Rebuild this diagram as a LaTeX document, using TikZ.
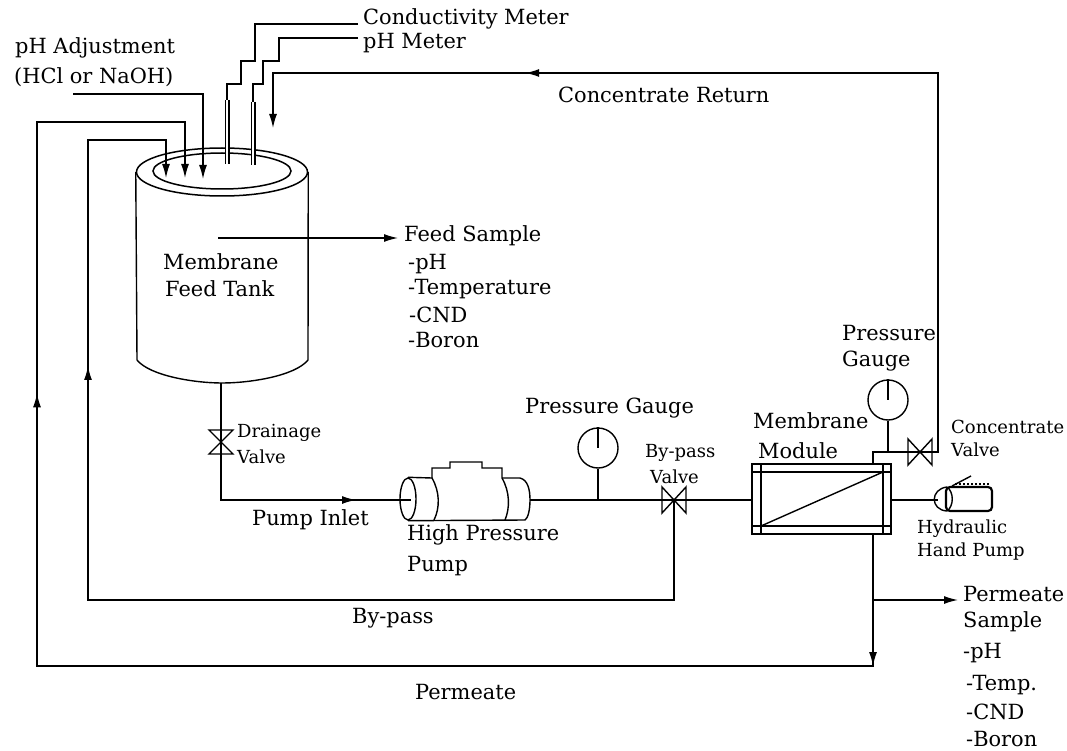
\documentclass[tikz,border=0pt]{standalone}
\usepackage{fontspec}
\setmainfont{DejaVu Serif}
\usepackage{tikz}
\usetikzlibrary{positioning,arrows.meta,calc,shapes.geometric,decorations.markings}
\tikzset{
    x=1pt,
    y=-1pt,
    >={Latex[length=14pt,width=8pt]},
    pipe/.style = {
        draw,
        line width=1.4pt
    },
    gauge/.style = {
        draw,
        shape=circle,
        minimum size=40pt,
        inner sep=0pt,
        line width=1.4pt
    },
    rim/.style = {
        draw,
        shape=ellipse,
        inner sep=0pt,
        line width=1.5pt
    },
    probe/.style = {
        draw,
        line width=1.5pt,
        double,
        double distance=2pt
    },
    empty/.style = {
        shape=rectangle,
        inner sep=0pt,
        anchor=west,
        font=\fontsize{20.9}{20.9}\selectfont
    },
    small/.style = {
        shape=rectangle,
        inner sep=0pt,
        anchor=west,
        font=\fontsize{18}{18}\selectfont
    },
    midarrow/.style = {
        postaction={decorate},
        decoration={markings, mark=at position #1 with {\arrow{>}}}
    },
    hvalve/.pic = {
        \path[pipe] (-12,-13) -- (12,13) -- (12,-13) -- (-12,13) -- cycle;
    },
    vvalve/.pic = {
        \path[pipe] (-12,-12) -- (12,-12) -- (-12,12) -- (12,12) -- cycle;
    },
}
\begin{document}
\begin{tikzpicture}
            \useasboundingbox (0,0) rectangle (1067,751);

            % tank
            \node[rim, minimum width=171pt, minimum height=48pt] (tanktop) at (222,172) {};
            \node[rim, minimum width=138pt, minimum height=36pt] (tankin) at (222,171) {};
            \path[pipe] (tanktop.west) -- (137,360) .. controls (150,376) and (195,383) .. (222,383)
                .. controls (250,383) and (295,376) .. (308,360) -- (tanktop.east);
            \coordinate (tankbase) at (221,383);

            % probes
            \coordinate (condend) at (358,24);
            \coordinate (phend) at (358,38);
            \coordinate (condtop) at (227,100);
            \coordinate (phtop) at (253,102);
            \path[probe] (condtop) -- (227,164);
            \path[probe] (phtop) -- (253,165);
            \path[pipe] (condend) -| (255,61) -| (241,84) -| (condtop);
            \path[pipe] (phend) -| (279,61) -| (263,84) -| (phtop);

            % valves and gauges
            \coordinate (drain) at (221,442);
            \coordinate (bypass) at (674,500);
            \coordinate (concval) at (920,452);
            \node[gauge] (gaugea) at (598,448) {};
            \node[gauge] (gaugeb) at (888,400) {};
            \path[pipe] (gaugea.north) -- (gaugea.center);
            \path[pipe] (gaugeb.north) -- (gaugeb.center);
            \path (drain) pic {vvalve};
            \path (bypass) pic {hvalve};
            \path (concval) pic {hvalve};

            % pump
            \node[rim, minimum width=16pt, minimum height=42pt, line width=1.4pt] (pumpend) at (408,499) {};
            \coordinate (pumpin) at (411,500);
            \coordinate (pumpout) at (530,500);
            \path[pipe] (pumpend.north) -- (432,478) .. controls (440,492) and (440,508) .. (434,520);
            \path[pipe] (432,478) -- (432,468) -- (450,468) -- (450,462) -- (482,462) -- (482,468) -- (502,468) -- (502,478)
                .. controls (510,492) and (510,508) .. (505,520);
            \path[pipe] (502,478) -- (520,478) .. controls (528,480) and (530,490) .. (pumpout)
                .. controls (530,510) and (528,518) .. (525,520) -- (pumpend.south);

            % module
            \node[draw, line width=1.4pt, minimum width=139pt, minimum height=70pt, inner sep=0pt] (module) at (821.5,499) {};
            \coordinate (modtl) at (761,472);
            \coordinate (modbr) at (883,526);
            \coordinate (modup) at (873,464);
            \coordinate (moddown) at (873,534);
            \path[pipe] (modtl |- module.north) -- (modtl |- module.south);
            \path[pipe] (modbr |- module.north) -- (modbr |- module.south);
            \path[pipe] (module.west |- modtl) -- (module.east |- modtl);
            \path[pipe] (module.west |- modbr) -- (module.east |- modbr);
            \path[pipe] (modtl |- modbr) -- (modbr |- modtl);

            % hand pump
            \node[draw, line width=2.2pt, rounded corners=4pt, minimum width=46pt, minimum height=24pt, inner sep=0pt] (hand) at (969,499) {};
            \coordinate (handin) at (938,500);
            \path[pipe] (947,487) .. controls (930,489) and (930,510) .. (947,511);
            \path[pipe] (947,487) .. controls (954,492) and (954,506) .. (947,511);
            \path[pipe] (952,486) -- (971,476);
            \path[draw, line width=2pt, dotted] (955,484) -- (990,484);

            % pipes
            \coordinate (permjoin) at (873,600);
            \coordinate (permlow) at (873,666);
            \path[pipe, ->] (tankbase) -- (drain) -- ++(0,58) -- (356,500);
            \path[pipe] (346,500) -- (pumpin);
            \path[pipe] (pumpout) -- (bypass) -- (module.west |- bypass);
            \path[pipe] (gaugea.south) -- (gaugea |- pumpout);
            \path[pipe] (module.east |- handin) -- (handin);
            \path[pipe] (modup) -- (873,452) -- (concval);
            \path[pipe] (gaugeb.south) -- (888,452);

            % return lines
            \coordinate (retend) at (273,128);
            \coordinate (baseb) at (166,178);
            \coordinate (basep) at (185,178);
            \coordinate (basea) at (203,179);
            \coordinate (adjstart) at (73,94);
            \path[pipe, midarrow=0.725, ->] (concval) -- (938,452) -- (938,73) -| (retend);
            \path[pipe, midarrow=0.729, ->] (bypass) |- (88,600) |- (166,140) -- (baseb);
            \path[pipe, midarrow=0.723, ->] (moddown) -- (permlow) -| (37,122) -| (basep);
            \path[pipe, ->] (permlow |- 0,640) -- (permlow);
            \path[pipe, ->] (adjstart) -| (basea);
            \path[pipe, ->] (permjoin) -- (958,600);
            \path[pipe, ->] (218,238) -- (398,238);

            % labels
            \node[empty] (adjlab) at (15,48) {pH Adjustment};
            \node[empty] (hcllab) at (14,77) {(HCl or NaOH)};
            \node[empty] (condlab) at (363,19) {Conductivity Meter};
            \node[empty] (phlab) at (363,43) {pH Meter};
            \node[empty] (retlab) at (558,95) {Concentrate Return};
            \node[empty] (tanklab) at (163,262) {Membrane};
            \node[empty] (feedlab) at (165,289) {Feed Tank};
            \node[empty] (samplab) at (404,236) {Feed Sample};
            \node[empty] (fpH) at (408,264) {-pH};
            \node[empty] (ftemp) at (408,289) {-Temperature};
            \node[empty] (fcnd) at (409,315) {-CND};
            \node[empty] (fbor) at (408,340) {-Boron};
            \node[empty] (gaugelab) at (525,408) {Pressure Gauge};
            \node[small] (bplab) at (645,453) {By-pass};
            \node[small] (bpvlab) at (650,477) {Valve};
            \node[small] (drlab) at (237,433) {Drainage};
            \node[small] (drvlab) at (237,457) {Valve};
            \node[empty] (inlab) at (252,520) {Pump Inlet};
            \node[empty] (hplab) at (407,535) {High Pressure};
            \node[empty] (pumplab) at (407,566) {Pump};
            \node[empty] (memlab) at (753,421) {Membrane};
            \node[empty] (modlab) at (758,451) {Module};
            \node[empty] (pglab) at (842,333) {Pressure};
            \node[empty] (pgblab) at (842,361) {Gauge};
            \node[small] (cvlab) at (951,427) {Concentrate};
            \node[small] (cvblab) at (951,450) {Valve};
            \node[small] (hylab) at (917,529) {Hydraulic};
            \node[small] (hplab2) at (917,552) {Hand Pump};
            \node[empty] (pmlab) at (963,594) {Permeate};
            \node[empty] (pmslab) at (963,622) {Sample};
            \node[empty] (ppH) at (963,653) {-pH};
            \node[empty] (ptemp) at (966,685) {-Temp.};
            \node[empty] (pcnd) at (966,712) {-CND};
            \node[empty] (pbor) at (966,739) {-Boron};
            \node[empty] (bypasslab) at (352,618) {By-pass};
            \node[empty] (permlab) at (415,692) {Permeate};
        \end{tikzpicture}
\end{document}
